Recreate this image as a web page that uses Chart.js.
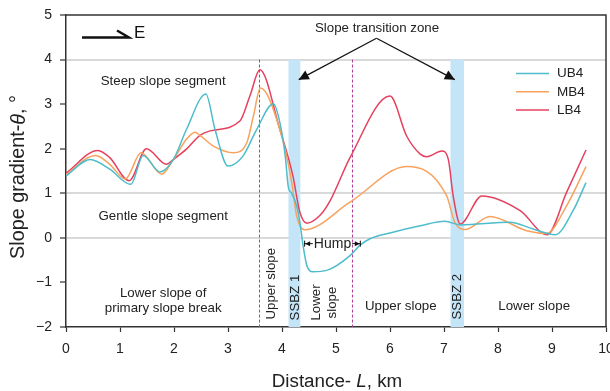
<!DOCTYPE html>
<html>
<head>
<meta charset="utf-8">
<script src="https://cdn.jsdelivr.net/npm/chart.js@4.4.1/dist/chart.umd.min.js"></script>
<style>
  html, body { margin: 0; padding: 0; background: #fff; }
</style>
</head>
<body>
<canvas id="slope-chart" width="610" height="391"></canvas>
<script>
// values, distance in km, gradient in degrees
const ub4X = [0, 0.45, 0.81, 1.2, 1.43, 1.74, 1.99, 2.23, 2.59, 2.76, 3.0, 3.28, 3.53, 3.84, 3.96, 4.06, 4.12, 4.18, 4.27, 4.33, 4.39, 4.46, 4.57, 4.83, 5.26, 5.44, 5.63, 6.0, 6.56, 7.02, 7.3, 8.22, 8.65, 9.06, 9.39, 9.63];
const ub4Y = [1.39, 1.76, 1.54, 1.2, 1.85, 1.48, 1.76, 2.43, 3.23, 2.43, 1.61, 1.84, 2.43, 3.01, 2.59, 1.84, 1.12, 1.0, 0.72, 0.36, -0.17, -0.62, -0.76, -0.73, -0.4, -0.17, -0.02, 0.11, 0.27, 0.37, 0.29, 0.35, 0.2, 0.07, 0.61, 1.24];

const mb4X = [0, 0.55, 0.81, 1.1, 1.39, 1.77, 1.99, 2.23, 2.39, 2.48, 2.73, 3.1, 3.35, 3.47, 3.6, 3.96, 4.18, 4.27, 4.42, 5.26, 6.31, 7.05, 7.2, 7.4, 7.85, 8.53, 8.9, 9.27, 9.63];
const mb4Y = [1.42, 1.85, 1.65, 1.32, 1.91, 1.43, 1.76, 2.21, 2.37, 2.3, 2.06, 1.91, 2.14, 2.73, 3.36, 2.43, 1.25, 0.5, 0.18, 0.8, 1.6, 0.94, 0.35, 0.19, 0.48, 0.16, 0.1, 0.72, 1.6];

const lb4X = [0, 0.59, 0.81, 1.17, 1.49, 1.86, 1.99, 2.23, 2.48, 2.67, 3.22, 3.41, 3.59, 3.96, 4.2, 4.33, 4.46, 4.7, 4.89, 5.26, 6.0, 6.31, 6.56, 6.68, 6.96, 7.08, 7.17, 7.3, 7.7, 8.41, 8.91, 9.27, 9.63];
const lb4Y = [1.45, 1.96, 1.8, 1.28, 2.0, 1.65, 1.76, 1.99, 2.3, 2.4, 2.62, 3.2, 3.77, 2.43, 1.4, 0.58, 0.33, 0.5, 0.83, 1.8, 3.18, 2.28, 1.88, 1.82, 1.95, 1.76, 0.94, 0.31, 0.94, 0.61, 0.07, 1.02, 1.97];

const seriesNames = ['UB4', 'MB4', 'LB4'];
const gridValues = [4, 1, 0];          // only these gridlines are drawn
const ssbzBands = [[4.12, 4.34], [7.12, 7.37]];
const slopeBreaks = [3.57, 5.29];
const humpRange = [4.41, 5.46];

const FONT = "'Liberation Sans', Arial, sans-serif";

const toPoints = (xs, ys) => xs.map((x, i) => ({ x: x, y: ys[i] }));

function label(ctx, str, px, py, size, rotate) {
  ctx.save();
  ctx.translate(px, py);
  if (rotate) ctx.rotate(-Math.PI / 2);
  ctx.font = size + 'px ' + FONT;
  ctx.fillStyle = '#222';
  ctx.textAlign = 'center';
  ctx.textBaseline = 'middle';
  ctx.fillText(str, 0, 0);
  ctx.restore();
}

// draws pieces of text in a row, some italic, centred on px
function mixedLabel(ctx, parts, px, py, size, rotate) {
  ctx.save();
  ctx.translate(px, py);
  if (rotate) ctx.rotate(-Math.PI / 2);
  ctx.fillStyle = '#222';
  ctx.textBaseline = 'middle';
  ctx.textAlign = 'left';
  let total = 0;
  parts.forEach(p => {
    ctx.font = (p[1] ? 'italic ' : '') + size + 'px ' + FONT;
    total += ctx.measureText(p[0]).width;
  });
  let pos = -total / 2;
  parts.forEach(p => {
    ctx.font = (p[1] ? 'italic ' : '') + size + 'px ' + FONT;
    ctx.fillText(p[0], pos, 0);
    pos += ctx.measureText(p[0]).width;
  });
  ctx.restore();
}

function arrowHead(ctx, fromX, fromY, toX, toY, len, half) {
  const a = Math.atan2(toY - fromY, toX - fromX);
  ctx.beginPath();
  ctx.moveTo(toX, toY);
  ctx.lineTo(toX - len * Math.cos(a) + half * Math.sin(a), toY - len * Math.sin(a) - half * Math.cos(a));
  ctx.lineTo(toX - len * Math.cos(a) - half * Math.sin(a), toY - len * Math.sin(a) + half * Math.cos(a));
  ctx.closePath();
  ctx.fill();
}

const annotations = {
  id: 'annotations',
  beforeDatasetsDraw(chart) {
    const { ctx, scales: { x, y } } = chart;
    const top = y.getPixelForValue(4);
    const bottom = y.getPixelForValue(-2);
    ctx.save();
    ctx.fillStyle = '#c4e5f8';
    ssbzBands.forEach(b => {
      const x0 = x.getPixelForValue(b[0]);
      ctx.fillRect(x0, top, x.getPixelForValue(b[1]) - x0, bottom - top);
    });
    ctx.strokeStyle = '#b0409c';
    ctx.lineWidth = 1;
    ctx.setLineDash([3, 2]);
    slopeBreaks.forEach(v => {
      const px = Math.round(x.getPixelForValue(v)) + 0.5;
      ctx.beginPath();
      ctx.moveTo(px, top);
      ctx.lineTo(px, bottom);
      ctx.stroke();
    });
    ctx.restore();
  },
  afterDraw(chart) {
    const { ctx, chartArea, scales: { x, y } } = chart;
    const X = v => x.getPixelForValue(v);
    const Y = v => y.getPixelForValue(v);

    // top and right edges of the frame
    ctx.save();
    ctx.strokeStyle = '#333';
    ctx.lineWidth = 1.5;
    ctx.beginPath();
    ctx.moveTo(chartArea.left, chartArea.top);
    ctx.lineTo(chartArea.right, chartArea.top);
    ctx.lineTo(chartArea.right, chartArea.bottom);
    ctx.stroke();

    // direction marker
    ctx.strokeStyle = '#111';
    ctx.lineWidth = 2.5;
    ctx.beginPath();
    ctx.moveTo(82, 37.5);
    ctx.lineTo(129, 37.5);
    ctx.lineTo(117, 30.5);
    ctx.stroke();
    ctx.restore();
    ctx.save();
    ctx.font = '17px ' + FONT;
    ctx.fillStyle = '#111';
    ctx.textBaseline = 'middle';
    ctx.fillText('E', 134, 33.5);
    ctx.restore();

    // region texts
    label(ctx, 'Slope transition zone', X(5.76), Y(4.7), 13.3);
    label(ctx, 'Steep slope segment', X(1.8), Y(3.51), 13.3);
    label(ctx, 'Gentle slope segment', X(1.8), Y(0.49), 13.3);
    label(ctx, 'Lower slope of', X(1.8), Y(-1.25), 13.3);
    label(ctx, 'primary slope break', X(1.8), Y(-1.58), 13.3);
    label(ctx, 'Upper slope', X(3.81), Y(-1.03), 13.3, true);
    label(ctx, 'SSBZ 1', X(4.24), Y(-1.34), 13.3, true);
    label(ctx, 'Lower', X(4.63), Y(-1.45), 13.3, true);
    label(ctx, 'slope', X(4.93), Y(-1.45), 13.3, true);
    label(ctx, 'Upper slope', X(6.2), Y(-1.54), 13.3);
    label(ctx, 'SSBZ 2', X(7.25), Y(-1.32), 13.3, true);
    label(ctx, 'Lower slope', X(8.67), Y(-1.54), 13.3);

    // arrows from the transition zone label
    ctx.save();
    ctx.strokeStyle = '#111';
    ctx.fillStyle = '#111';
    ctx.lineWidth = 1.2;
    const sx = X(5.75), sy = Y(4.48);
    [[4.31, 3.55], [7.2, 3.55]].forEach(t => {
      ctx.beginPath();
      ctx.moveTo(sx, sy);
      ctx.lineTo(X(t[0]), Y(t[1]));
      ctx.stroke();
      arrowHead(ctx, sx, sy, X(t[0]), Y(t[1]), 10, 5);
    });

    // hump span
    const hx0 = X(humpRange[0]), hx1 = X(humpRange[1]), hy = Y(-0.13);
    ctx.font = '14px ' + FONT;
    const hw = ctx.measureText('Hump').width;
    const mid = (hx0 + hx1) / 2;
    ctx.lineWidth = 1;
    ctx.beginPath();
    ctx.moveTo(hx0, hy); ctx.lineTo(mid - hw / 2 - 1, hy);
    ctx.moveTo(mid + hw / 2 + 1, hy); ctx.lineTo(hx1, hy);
    ctx.moveTo(hx0 + 0.5, hy - 3); ctx.lineTo(hx0 + 0.5, hy + 3);
    ctx.moveTo(hx1 - 0.5, hy - 3); ctx.lineTo(hx1 - 0.5, hy + 3);
    ctx.stroke();
    arrowHead(ctx, hx0 + 8, hy, hx0 + 1, hy, 5, 2.5);
    arrowHead(ctx, hx1 - 8, hy, hx1 - 1, hy, 5, 2.5);
    ctx.restore();
    label(ctx, 'Hump', mid, hy, 14);

    // legend
    ctx.save();
    chart.data.datasets.forEach((ds, i) => {
      const ly = 73.5 + i * 18.3;
      ctx.strokeStyle = ds.borderColor;
      ctx.lineWidth = 1.5;
      ctx.beginPath();
      ctx.moveTo(516, ly);
      ctx.lineTo(549, ly);
      ctx.stroke();
      ctx.font = '13.5px ' + FONT;
      ctx.fillStyle = '#222';
      ctx.textBaseline = 'middle';
      ctx.fillText(ds.label, 557, ly);
    });
    ctx.restore();

    // axis titles
    mixedLabel(ctx, [['Slope gradient-', false], ['\u03b8', true], [', \u00b0', false]], 19, 177, 19.8, true);
    mixedLabel(ctx, [['Distance- ', false], ['L', true], [', km', false]], 337, 382, 18.8);
  }
};

new Chart(document.getElementById('slope-chart'), {
  type: 'line',
  data: {
    datasets: [
      { label: seriesNames[0], data: toPoints(ub4X, ub4Y), borderColor: '#4dbdcb' },
      { label: seriesNames[1], data: toPoints(mb4X, mb4Y), borderColor: '#f8a25e' },
      { label: seriesNames[2], data: toPoints(lb4X, lb4Y), borderColor: '#e6405f' }
    ]
  },
  options: {
    responsive: false,
    animation: false,
    devicePixelRatio: 1,
    layout: { padding: { top: 15, right: 4, left: 0, bottom: 0 } },
    elements: {
      point: { radius: 0 },
      line: { borderWidth: 1.5, cubicInterpolationMode: 'monotone', fill: false }
    },
    plugins: { legend: { display: false }, tooltip: { enabled: false } },
    scales: {
      x: {
        type: 'linear',
        min: 0,
        max: 10,
        ticks: { stepSize: 1, color: '#222', padding: 9, font: { family: FONT, size: 14 } },
        grid: { drawOnChartArea: false, tickLength: 5, tickColor: '#333', tickWidth: 1.2 },
        border: { color: '#333', width: 1.5 },
        afterFit(s) { s.height = 64; s.paddingLeft = 0; s.paddingRight = 0; }
      },
      y: {
        min: -2,
        max: 5,
        ticks: {
          stepSize: 1,
          color: '#222',
          padding: 8,
          font: { family: FONT, size: 14 },
          callback: v => (v < 0 ? '\u2212' + Math.abs(v) : '' + v)
        },
        grid: {
          color: c => (gridValues.includes(c.tick.value) ? '#d9d9d9' : 'rgba(0,0,0,0)'),
          lineWidth: 2,
          tickLength: 6,
          tickColor: '#333',
          tickWidth: 1.2
        },
        border: { color: '#333', width: 1.5 },
        afterFit(s) { s.width = 66; s.paddingTop = 0; s.paddingBottom = 0; }
      }
    }
  },
  plugins: [annotations]
});
</script>
</body>
</html>
